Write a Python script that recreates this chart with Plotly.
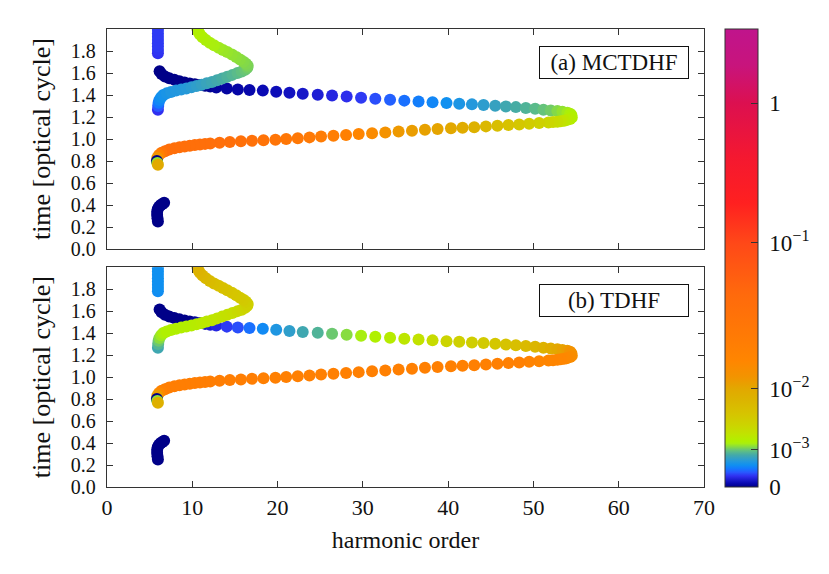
import plotly.graph_objects as go

# ---- trajectory geometry (harmonic order, time in optical cycles) ----
short_h = [5.97, 5.92, 5.88, 5.88, 5.95, 6.1, 6.3, 6.5, 6.7]
short_t = [0.25, 0.28, 0.31, 0.34, 0.365, 0.385, 0.40, 0.41, 0.42]

vert_h = [5.97, 5.97, 5.97, 5.97, 5.97, 5.97, 5.97, 5.97]
vert_t = [1.78, 1.81, 1.84, 1.87, 1.90, 1.93, 1.96, 1.99]

upper_h = [6.17, 6.4, 6.8, 7.3, 7.9, 8.5, 9.1, 9.7, 10.3, 10.9, 11.5, 12.1, 12.81, 14.05,
           15.34, 16.71, 18.27, 19.84, 21.39, 22.95, 24.71, 26.39, 28.1, 29.79, 31.46,
           33.19, 34.86, 36.53, 38.17, 39.81, 41.3, 42.79, 44.15, 45.52, 46.77, 47.94,
           49.11, 50.2, 51.17, 52.04, 52.81, 53.4, 53.98, 54.3, 54.45]
upper_t = [1.615, 1.59, 1.568, 1.552, 1.538, 1.525, 1.514, 1.505, 1.498, 1.492, 1.484,
           1.477, 1.469, 1.459, 1.451, 1.446, 1.44, 1.43, 1.42, 1.411, 1.403, 1.395,
           1.386, 1.376, 1.367, 1.358, 1.349, 1.341, 1.334, 1.327, 1.321, 1.315, 1.309,
           1.303, 1.296, 1.29, 1.282, 1.275, 1.267, 1.26, 1.254, 1.247, 1.24, 1.23, 1.218]

lower_h = [54.5, 54.3, 53.9, 53.6, 53.2, 52.81, 52.3, 51.76, 50.67, 49.5, 48.33, 47.07,
           45.78, 44.43, 43.06, 41.69, 40.33, 38.76, 37.28, 35.76, 34.19, 32.63, 31.08,
           29.51, 28.03, 26.55, 25.1, 23.74, 22.37, 21.01, 19.75, 18.35, 17.0, 15.7, 14.4,
           13.2, 12.1, 11.5, 10.9, 10.3, 9.7, 9.1, 8.5, 7.9, 7.3, 6.8, 6.4, 6.1, 5.9,
           5.85, 5.9, 5.97]
lower_t = [1.195, 1.182, 1.172, 1.166, 1.162, 1.158, 1.154, 1.151, 1.145, 1.139, 1.133,
           1.127, 1.121, 1.115, 1.108, 1.103, 1.098, 1.091, 1.084, 1.076, 1.068, 1.06,
           1.053, 1.045, 1.037, 1.03, 1.023, 1.015, 1.008, 1.0, 0.994, 0.989, 0.984,
           0.979, 0.973, 0.967, 0.96, 0.956, 0.951, 0.946, 0.94, 0.933, 0.926, 0.917,
           0.905, 0.89, 0.875, 0.855, 0.83, 0.80, 0.783, 0.766]

loop_h = [5.97, 6.0, 6.05, 6.15, 6.35, 6.6, 7.0, 7.5, 8.1, 8.7, 9.3, 9.9, 10.5, 11.1, 11.7,
          12.3, 12.9, 13.5, 14.1, 14.7, 15.3, 15.8, 16.2, 16.45, 16.5, 16.3, 16.0, 15.6,
          15.15, 14.65, 14.1, 13.6, 13.1, 12.55, 12.05, 11.6, 11.2, 10.9, 10.7, 10.6]
loop_t = [1.266, 1.30, 1.33, 1.355, 1.38, 1.40, 1.415, 1.428, 1.44, 1.45, 1.46, 1.47, 1.481,
          1.493, 1.506, 1.518, 1.534, 1.55, 1.566, 1.583, 1.60, 1.613, 1.63, 1.648, 1.665,
          1.685, 1.703, 1.722, 1.745, 1.768, 1.79, 1.81, 1.83, 1.852, 1.875, 1.90, 1.925,
          1.95, 1.975, 2.0]

# ---- colour levels (position on the colour bar, 0 = bottom, 1 = top) ----
a_short_c = [0, 0, 0, 0, 0, 0, 0, 0, 0]
b_short_c = [0, 0, 0, 0, 0, 0, 0, 0, 0]
a_vert_c = [0.024, 0.025, 0.026, 0.026, 0.026, 0.026, 0.026, 0.026]
b_vert_c = [0.047, 0.048, 0.048, 0.048, 0.048, 0.048, 0.048, 0.048]

a_upper_c = [0, 0, 0, 0, 0, 0, 0, 0, 0, 0, 0, 0.002, 0.004, 0.005, 0.006, 0.007, 0.009,
             0.01, 0.012, 0.014, 0.017, 0.02, 0.023, 0.026, 0.03, 0.034, 0.038, 0.042,
             0.045, 0.048, 0.053, 0.056, 0.06, 0.064, 0.068, 0.071, 0.074, 0.077, 0.08,
             0.083, 0.087, 0.09, 0.093, 0.096, 0.098]
b_upper_c = [0, 0, 0, 0, 0, 0, 0, 0, 0.004, 0.008, 0.012, 0.016, 0.02, 0.026, 0.03, 0.038,
             0.046, 0.054, 0.061, 0.068, 0.074, 0.082, 0.088, 0.095, 0.1, 0.106, 0.112,
             0.118, 0.126, 0.135, 0.142, 0.145, 0.15, 0.155, 0.162, 0.17, 0.178, 0.186,
             0.195, 0.205, 0.215, 0.222, 0.23, 0.24, 0.245]

a_lower_c = [0.1, 0.104, 0.108, 0.112, 0.118, 0.124, 0.128, 0.133, 0.14, 0.147, 0.155,
             0.163, 0.172, 0.183, 0.196, 0.207, 0.215, 0.219, 0.223, 0.228, 0.234, 0.245,
             0.262, 0.28, 0.3, 0.31, 0.32, 0.33, 0.34, 0.35, 0.36, 0.37, 0.38, 0.385,
             0.39, 0.39, 0.39, 0.39, 0.39, 0.39, 0.39, 0.39, 0.39, 0.39, 0.39, 0.39, 0.36,
             0.3, 0.24, 0.0, 0.09, 0.21]
b_lower_c = [0.25, 0.26, 0.265, 0.27, 0.275, 0.275, 0.278, 0.28, 0.28, 0.29, 0.3, 0.3,
             0.3, 0.3, 0.3, 0.3, 0.3, 0.3, 0.3, 0.3, 0.3, 0.3, 0.3, 0.3, 0.3, 0.3, 0.3,
             0.3, 0.3, 0.3, 0.3, 0.3, 0.31, 0.31, 0.31, 0.31, 0.31, 0.31, 0.31, 0.31, 0.31,
             0.31, 0.31, 0.31, 0.31, 0.31, 0.3, 0.27, 0.23, 0.0, 0.09, 0.198]

a_loop_c = [0.024, 0.032, 0.04, 0.045, 0.048, 0.05, 0.052, 0.054, 0.055, 0.056, 0.057,
            0.059, 0.061, 0.063, 0.065, 0.067, 0.069, 0.071, 0.073, 0.075, 0.077, 0.079,
            0.081, 0.083, 0.085, 0.086, 0.087, 0.088, 0.089, 0.09, 0.091, 0.092, 0.093,
            0.095, 0.096, 0.097, 0.098, 0.099, 0.1, 0.1]
b_loop_c = [0.068, 0.075, 0.082, 0.088, 0.093, 0.097, 0.1, 0.1, 0.1, 0.101, 0.102, 0.104,
            0.106, 0.108, 0.11, 0.112, 0.114, 0.117, 0.12, 0.123, 0.127, 0.131, 0.135,
            0.139, 0.142, 0.146, 0.15, 0.153, 0.156, 0.159, 0.162, 0.165, 0.168, 0.172,
            0.176, 0.18, 0.184, 0.188, 0.192, 0.195]

# colour bar ticks: position on the bar and label
cbar_pos = [0, 0.082, 0.2145, 0.533, 0.838]
cbar_text = ["\u00a00", "\u00a010<sup>−3</sup>", "\u00a010<sup>−2</sup>",
             "\u00a010<sup>−1</sup>", "\u00a01"]

x_ticks = [0, 10, 20, 30, 40, 50, 60, 70]
y_ticks = [0.0, 0.2, 0.4, 0.6, 0.8, 1.0, 1.2, 1.4, 1.6, 1.8]

colorscale = [
    [0.000, "#000088"], [0.008, "#0808b0"], [0.016, "#1c1cd0"], [0.024, "#3030f0"],
    [0.032, "#2858ff"], [0.040, "#1478ff"], [0.048, "#1090f0"], [0.056, "#2498dc"],
    [0.063, "#34a0c4"], [0.070, "#44aaa8"], [0.076, "#56b890"], [0.082, "#6cc870"],
    [0.088, "#88dc40"], [0.095, "#a8ee10"], [0.100, "#b0f000"], [0.115, "#c0e400"],
    [0.135, "#ccd400"], [0.160, "#d6c400"], [0.190, "#dcb400"], [0.2145, "#e2a800"],
    [0.240, "#f29400"], [0.275, "#ff8600"], [0.320, "#ff7c04"], [0.420, "#ff6a0c"],
    [0.533, "#ff4818"], [0.620, "#ff2020"], [0.720, "#f41830"], [0.838, "#dc1050"],
    [0.920, "#c8147c"], [1.000, "#c0148c"],
]

FONT = "Liberation Serif"
AXIS = "#333333"
TXT = "#111111"

fig = go.Figure()

panels = [
    ("x", "y", [a_short_c, a_vert_c, a_upper_c, a_lower_c, a_loop_c]),
    ("x2", "y2", [b_short_c, b_vert_c, b_upper_c, b_lower_c, b_loop_c]),
]
geometry = [(short_h, short_t), (vert_h, vert_t), (upper_h, upper_t),
            (lower_h, lower_t), (loop_h, loop_t)]

for xa, ya, levels in panels:
    for (hx, ty), lv in zip(geometry, levels):
        fig.add_trace(
            go.Scatter(
                x=hx, y=ty, xaxis=xa, yaxis=ya, mode="markers",
                marker=dict(size=12, color=lv, coloraxis="coloraxis", line=dict(width=0)),
                showlegend=False, hoverinfo="skip",
            )
        )

axis_common = dict(
    showline=True, linecolor=AXIS, linewidth=1.3, mirror="ticks", ticks="inside",
    ticklen=6, tickcolor=AXIS, showgrid=False, zeroline=False,
)
yfont = dict(family=FONT, size=20, color=TXT)
xfont = dict(family=FONT, size=22, color=TXT)
ytitle = dict(text="time [optical cycle]", font=dict(size=26), standoff=12)

# the page body adds an 8px offset, so the figure is drawn 8px smaller
fig.update_layout(
    width=821, height=566,
    margin=dict(l=99, r=125, t=21, b=87),
    plot_bgcolor="white", paper_bgcolor="white",
    font=dict(family=FONT, size=24, color=TXT),
    xaxis=dict(domain=[0, 1], range=[0, 70], tickvals=x_ticks, showticklabels=False,
               anchor="y", tickfont=xfont, **axis_common),
    yaxis=dict(domain=[0.5195, 1], range=[0, 2.0], tickvals=y_ticks, tickformat=".1f",
               anchor="x", title=ytitle, ticklabelstandoff=6, tickfont=yfont, **axis_common),
    xaxis2=dict(domain=[0, 1], range=[0, 70], tickvals=x_ticks, anchor="y2", tickfont=xfont,
                title=dict(text="harmonic order", font=dict(size=24), standoff=12),
                **axis_common),
    yaxis2=dict(domain=[0, 0.48], range=[0, 2.0], tickvals=y_ticks, tickformat=".1f",
                anchor="x2", title=ytitle, ticklabelstandoff=6, tickfont=yfont, **axis_common),
    coloraxis=dict(
        colorscale=colorscale, cmin=0, cmax=1,
        colorbar=dict(
            x=1.0352, xanchor="left", xpad=0, y=0.5, yanchor="middle", ypad=0,
            len=1.0, thickness=33, outlinecolor=AXIS, outlinewidth=1,
            tickvals=cbar_pos, ticktext=cbar_text, ticks="inside", ticklen=7,
            tickcolor=AXIS, tickfont=dict(family=FONT, size=23, color=TXT),
        ),
    ),
)

labels = [("x", "y", "(a) MCTDHF"), ("x2", "y2", "(b) TDHF")]
for xr, yr, txt in labels:
    fig.add_annotation(
        x=59.45, y=1.70, xref=xr, yref=yr, text=txt, showarrow=False,
        font=dict(family=FONT, size=23, color=TXT),
        bgcolor="white", bordercolor=TXT, borderwidth=1, borderpad=1,
        width=146, height=29, align="center",
    )

fig.write_html("out.html")
